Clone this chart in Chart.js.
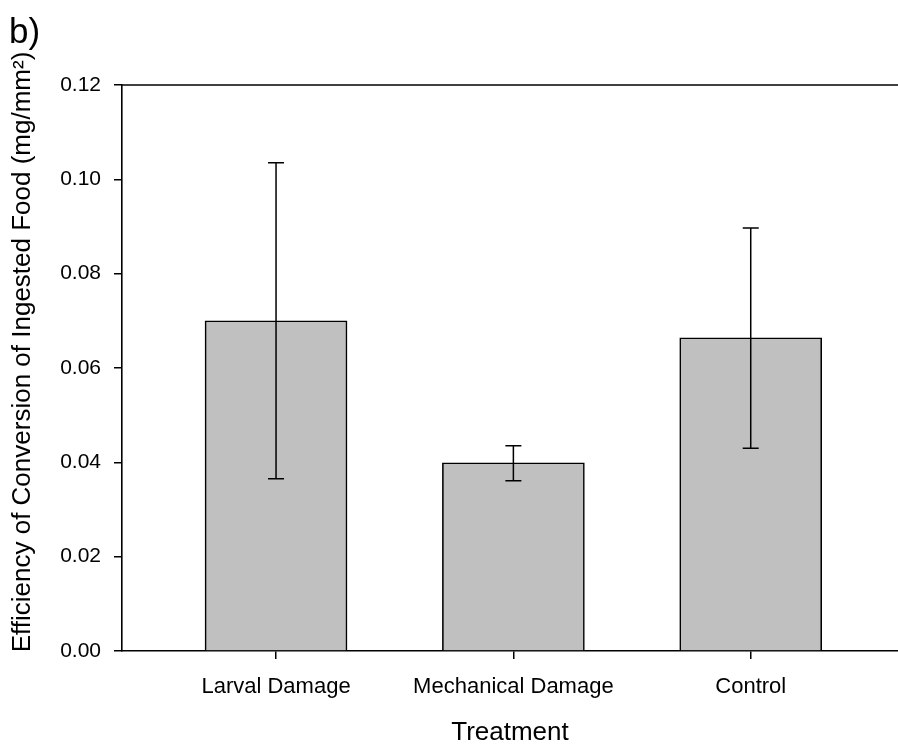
<!DOCTYPE html>
<html>
<head>
<meta charset="utf-8">
<script src="https://cdn.jsdelivr.net/npm/chart.js@4/dist/chart.umd.min.js"></script>
<style>
  html, body { margin: 0; padding: 0; background: #fff; }
  #wrap { position: relative; width: 898px; height: 746px; overflow: hidden; }
  #grafico { position: absolute; left: 0; top: 0; }
</style>
</head>
<body>
<div id="wrap"><canvas id="grafico" width="898" height="770"></canvas></div>
<script>
// ========== dados =============
const categorias = ["Larval Damage", "Mechanical Damage", "Control"];
const medias = [0.0700, 0.0399, 0.0664];
const erroSuperior = [0.1035, 0.0435, 0.0897];
const erroInferior = [0.0365, 0.0361, 0.0430];
const ticksY = [0, 0.02, 0.04, 0.06, 0.08, 0.10, 0.12];

const painel = "b)";
const tituloX = "Treatment";
const tituloY = "Efficiency of Conversion of Ingested Food (mg/mm²)";

Chart.defaults.font.family = "'Liberation Sans', Arial, sans-serif";
Chart.defaults.color = "#000";

// ========== barras de erro + moldura + textos =============
const barrasErro = {
  id: "barrasErro",
  afterDatasetsDraw(chart) {
    const ctx = chart.ctx;
    const x = chart.scales.x;
    const y = chart.scales.y;
    const area = chart.chartArea;
    ctx.save();
    ctx.strokeStyle = "#000";
    ctx.lineWidth = 1.5;
    for (let i = 0; i < categorias.length; i++) {
      const px = x.getPixelForValue(i);
      const yTop = y.getPixelForValue(erroSuperior[i]);
      const yBot = y.getPixelForValue(erroInferior[i]);
      ctx.beginPath();
      ctx.moveTo(px, yTop);
      ctx.lineTo(px, yBot);
      ctx.moveTo(px - 8, yTop);
      ctx.lineTo(px + 8, yTop);
      ctx.moveTo(px - 8, yBot);
      ctx.lineTo(px + 8, yBot);
      ctx.stroke();
    }
    // linha de cima da moldura
    ctx.beginPath();
    ctx.moveTo(area.left, area.top);
    ctx.lineTo(area.right, area.top);
    ctx.stroke();
    // letra do painel
    ctx.fillStyle = "#000";
    ctx.font = "35px 'Liberation Sans', Arial, sans-serif";
    ctx.textBaseline = "alphabetic";
    ctx.fillText(painel, 9, 43);
    // titulo do eixo y (um pouco acima do centro, como no original)
    ctx.translate(23, area.top + (area.bottom - area.top) / 2 - 16);
    ctx.rotate(-Math.PI / 2);
    ctx.font = "26px 'Liberation Sans', Arial, sans-serif";
    ctx.textAlign = "center";
    ctx.textBaseline = "middle";
    ctx.fillText(tituloY, 0, 0);
    ctx.restore();
  },
};

function plotarGrafico(idGrafico) {
  const ctx = document.getElementById(idGrafico).getContext("2d");
  let myChart = new Chart(ctx, {
    type: "bar",
    data: {
      datasets: [
        {
          label: "Desempenho",
          data: categorias.map((c, i) => ({ x: i, y: medias[i] })),
          backgroundColor: "#c0c0c0",
          borderColor: "#000",
          borderWidth: 1.6,
          barThickness: 142,
        },
      ],
    },
    options: {
      responsive: false,
      animation: false,
      layout: { padding: { top: 85, left: 0, right: 0, bottom: 0 } },
      plugins: {
        legend: { display: false },
        tooltip: { enabled: false },
      },
      scales: {
        x: {
          type: "linear",
          min: -0.649,
          max: 2.6205,
          offset: false,
          afterBuildTicks: (scale) => {
            scale.ticks = categorias.map((c, i) => ({ value: i }));
          },
          afterFit: (scale) => {
            scale.height = 119;
            scale.paddingLeft = 0;
            scale.paddingRight = 0;
          },
          ticks: {
            callback: (v) => categorias[v],
            font: { size: 22 },
            padding: 15,
            maxRotation: 0,
            autoSkip: false,
          },
          grid: {
            display: true,
            offset: false,
            drawOnChartArea: false,
            drawTicks: true,
            tickLength: 8,
            color: "#000",
            lineWidth: 1.5,
          },
          border: { display: true, color: "#000", width: 1.6 },
          title: {
            display: true,
            text: tituloX,
            font: { size: 26 },
            padding: { top: 0, bottom: 22 },
          },
        },
        y: {
          min: 0,
          max: 0.12,
          afterBuildTicks: (scale) => {
            scale.ticks = ticksY.map((v) => ({ value: v }));
          },
          afterFit: (scale) => {
            scale.width = 122;
            scale.paddingTop = 0;
            scale.paddingBottom = 0;
          },
          ticks: {
            callback: (v) => Number(v).toFixed(2),
            font: { size: 21 },
            padding: 13,
          },
          grid: {
            display: true,
            drawOnChartArea: false,
            drawTicks: true,
            tickLength: 8,
            color: "#000",
            lineWidth: 1.5,
          },
          border: { display: true, color: "#000", width: 1.6 },
        },
      },
    },
    plugins: [barrasErro],
  });
}

plotarGrafico("grafico");
</script>
</body>
</html>
